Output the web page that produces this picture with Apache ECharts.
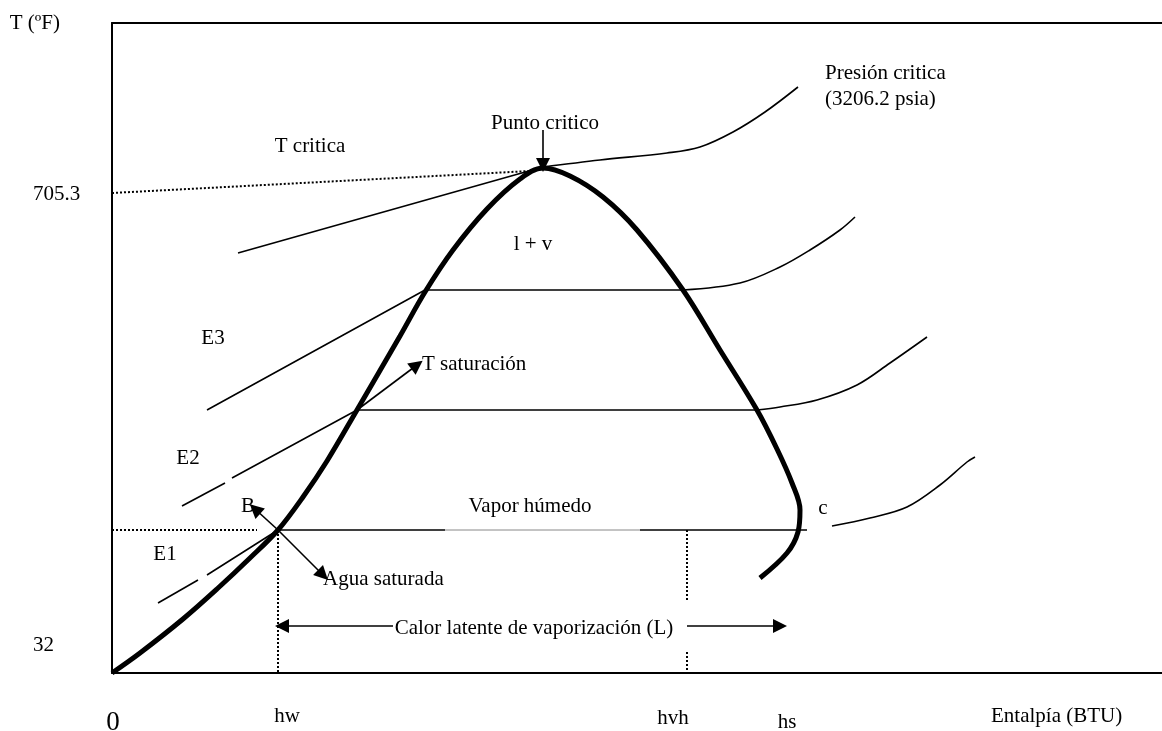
<!DOCTYPE html>
<html>
<head>
<meta charset="utf-8">
<title>Diagrama T-h del agua</title>
<script src="https://cdn.jsdelivr.net/npm/echarts@6.0.0/dist/echarts.min.js"></script>
<style>
  html, body { margin: 0; padding: 0; background: #ffffff; }
  #chart { width: 1162px; height: 731px; }
</style>
</head>
<body>
<div id="chart"></div>
<script>
// ejes (unidades del esquema)
const xTickVals = [1, 175, 561, 675];
const xTickLabels = ['0', 'hw', 'hvh', 'hs'];
const yTickVals = [28, 479];
const yTickLabels = ['32', '705.3'];

// campana de saturacion
const domeCurve = [[0, 0], [28, 20], [71, 54], [105, 84], [138, 115], [166, 143], [191, 176], [215, 212],
  [245, 263], [288, 337], [313, 381], [341, 423], [375, 464], [408, 494], [431, 505], [458, 497], [491, 476],
  [525, 443], [571, 383], [608, 323], [645, 263], [665, 224], [680, 190], [688, 163], [686, 141], [675, 120], [648, 95]];

// isobaras
const isoCritLine = [[126, 420], [431, 506]];
const isoCritCurve = [[431, 506], [488, 513], [555, 520], [588, 526], [621, 541], [653, 561], [686, 586]];
const isoE3Line = [[95, 263], [313, 383], [571, 383]];
const isoE3Curve = [[571, 383], [628, 390], [668, 406], [698, 423], [728, 443], [743, 456]];
const isoE2Dash = [[70, 167], [113, 190]];
const isoE2Line = [[120, 195], [245, 263], [645, 263]];
const isoE2Curve = [[645, 263], [668, 266], [705, 273], [745, 288], [778, 310], [815, 336]];
const isoE1Dash = [[46, 70], [86, 93]];
const isoE1Line = [[95, 98], [166, 143], [333, 143]];
const isoE1Faint = [[333, 143], [528, 143]];
const isoE1Line2 = [[528, 143], [695, 143]];
const isoE1Curve = [[720, 147], [758, 155], [795, 166], [828, 188], [855, 211], [863, 216]];

// lineas punteadas
const dotTcrit = [[0, 480], [418, 502]];
const dotTsat = [[0, 143], [145, 143]];
const dotHw = [[166, 143], [166, 0]];
const dotHvhTop = [[575, 143], [575, 73]];
const dotHvhLow = [[575, 21], [575, 1]];

// flechas [inicio, punta]
const arrows = [
  [[431, 543], [431, 508]],
  [[245, 263], [305, 308]],
  [[166, 143], [143, 164]],
  [[166, 143], [211, 98]],
  [[281, 47], [170, 47]],
  [[575, 47], [668, 47]]
];

// textos
const notes = [
  ['T critica', 198, 528],
  ['Punto critico', 433, 551],
  ['Presión critica\n(3206.2 psia)', 713, 588],
  ['l + v', 421, 430],
  ['E3', 101, 336],
  ['E2', 76, 216],
  ['T saturación', 310, 310],
  ['B', 136, 168],
  ['Vapor húmedo', 418, 168],
  ['c', 711, 166],
  ['E1', 53, 120],
  ['Agua saturada', 211, 95],
  ['Calor latente de vaporización (L)', 422, 46]
];
const leftNotes = ['Presión critica\n(3206.2 psia)', 'T saturación', 'Agua saturada'];

const FONT = '"Liberation Serif", "DejaVu Serif", serif';

function curve(data, width) {
  return {
    type: 'line', data: data, smooth: 0.35, symbol: 'none', silent: true,
    lineStyle: { color: '#000', width: width }
  };
}
function poly(data, width, dash, color) {
  return {
    type: 'line', data: data, smooth: false, symbol: 'none', silent: true,
    lineStyle: { color: color || '#000', width: width, type: dash || 'solid' }
  };
}

const chart = echarts.init(document.getElementById('chart'));

const option = {
  animation: false,
  backgroundColor: '#ffffff',
  grid: { left: 112, right: 0, top: 23, bottom: 58, containLabel: false, outerBoundsMode: 'none' },
  xAxis: [{
    type: 'value', min: 0, max: 1050, position: 'bottom',
    axisLine: { show: true, onZero: false, lineStyle: { color: '#000', width: 2 } },
    axisTick: { show: false },
    splitLine: { show: false },
    axisLabel: {
      customValues: xTickVals,
      margin: 33,
      formatter: function (v) {
        const t = xTickLabels[xTickVals.indexOf(v)];
        const k = t === '0' ? 'zero' : (t === 'hs' ? 'low' : (t === 'hvh' ? 'mid' : 'n'));
        return '{' + k + '|' + t + '}';
      },
      rich: {
        n: { fontFamily: FONT, fontSize: 21, color: '#000' },
        mid: { fontFamily: FONT, fontSize: 21, color: '#000', padding: [2, 0, 0, 0] },
        low: { fontFamily: FONT, fontSize: 21, color: '#000', padding: [6, 0, 0, 0] },
        zero: { fontFamily: FONT, fontSize: 27, color: '#000', padding: [3, 0, 0, 0] }
      }
    },
    name: 'Entalpía (BTU)',
    nameLocation: 'end',
    nameGap: -171,
    nameTextStyle: {
      fontFamily: FONT, fontSize: 21, color: '#000',
      align: 'left', verticalAlign: 'top', padding: [33, 0, 0, 0]
    }
  }, {
    type: 'value', min: 0, max: 1050, position: 'top',
    axisLine: { show: true, onZero: false, lineStyle: { color: '#000', width: 2 } },
    axisTick: { show: false },
    axisLabel: { show: false },
    splitLine: { show: false }
  }],
  yAxis: {
    type: 'value', min: 0, max: 650,
    axisLine: { show: true, onZero: false, lineStyle: { color: '#000', width: 2 } },
    axisTick: { show: false },
    splitLine: { show: false },
    axisLabel: {
      customValues: yTickVals,
      formatter: function (v) { return yTickLabels[yTickVals.indexOf(v)]; },
      align: 'left', margin: 79,
      fontFamily: FONT, fontSize: 21, color: '#000'
    },
    name: 'T (ºF)',
    nameLocation: 'end',
    nameGap: 0,
    nameTextStyle: {
      fontFamily: FONT, fontSize: 21, color: '#000',
      align: 'right', verticalAlign: 'middle', padding: [4, 52, 0, 0]
    }
  },
  series: [
    curve(domeCurve, 5),
    poly(isoCritLine, 1.6),
    curve(isoCritCurve, 1.6),
    poly(isoE3Line, 1.6),
    curve(isoE3Curve, 1.6),
    poly(isoE2Dash, 1.6),
    poly(isoE2Line, 1.6),
    curve(isoE2Curve, 1.6),
    poly(isoE1Dash, 1.6),
    poly(isoE1Line, 1.6),
    poly(isoE1Faint, 1, 'solid', '#888'),
    poly(isoE1Line2, 1.6),
    curve(isoE1Curve, 1.6),
    poly(dotTcrit, 2, [2, 2]),
    poly(dotTsat, 2, [2, 2]),
    poly(dotHw, 2, [2, 2]),
    poly(dotHvhTop, 2, [2, 2]),
    poly(dotHvhLow, 2, [2, 2]),
    {
      type: 'lines',
      coordinateSystem: 'cartesian2d',
      silent: true,
      symbol: ['none', 'triangle'],
      symbolSize: 14,
      lineStyle: { color: '#000', width: 1.6, opacity: 1 },
      data: arrows.map(function (a) { return { coords: a }; })
    },
    {
      type: 'scatter',
      symbolSize: 0,
      silent: true,
      itemStyle: { color: '#000' },
      data: notes.map(function (n) {
        const left = leftNotes.indexOf(n[0]) >= 0;
        return {
          name: n[0],
          value: [n[1], n[2]],
          label: left ? { position: 'right', distance: 0, align: 'left' } : { position: 'inside' }
        };
      }),
      label: {
        show: true,
        formatter: function (p) { return p.name; },
        offset: [0, 1],
        fontFamily: FONT, fontSize: 21, color: '#000', lineHeight: 26,
        textBorderWidth: 0, textBorderColor: 'transparent', opacity: 1
      }
    }
  ]
};

chart.setOption(option);
</script>
</body>
</html>
